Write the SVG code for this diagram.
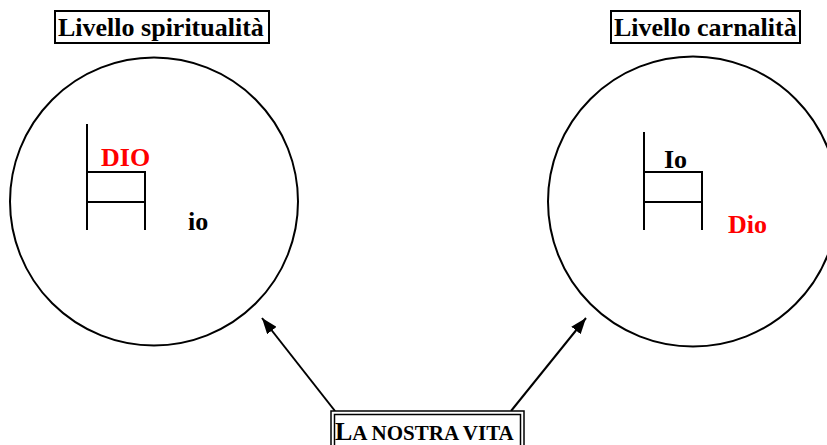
<svg xmlns="http://www.w3.org/2000/svg" width="827" height="445" viewBox="0 0 827 445">
<style>
  text { font-family: "Liberation Serif", "Times New Roman", serif; font-weight: bold; font-size: 26px; fill: #000; }
  .red { fill: #ff0000; }
  .circle { fill: none; stroke: #000; stroke-width: 2; }
  .ladder { fill: none; stroke: #000; stroke-width: 2; }
  .box { fill: #fff; stroke: #000; stroke-width: 2; }
  .conn { stroke: #000; stroke-width: 2; fill: none; }
</style>
<defs>
  <marker id="arrow" viewBox="0 0 16 12" refX="16" refY="6" markerWidth="16" markerHeight="12" markerUnits="userSpaceOnUse" orient="auto">
    <path d="M0,0 L16,6 L0,12 Z" fill="#000"/>
  </marker>
</defs>
<rect width="827" height="445" fill="#fff"/>

<g id="spiritualita">
  <circle class="circle" cx="154" cy="201.5" r="144"/>
  <rect class="box" x="55" y="11" width="214" height="32"/>
  <text x="58" y="36">Livello spiritualità</text>
  <path class="ladder" d="M87,124 V230 M87,172 H145 V230 M87,202 H145"/>
  <text class="red" x="101" y="166">DIO</text>
  <text x="188" y="230">io</text>
</g>

<g id="carnalita">
  <circle class="circle" cx="693" cy="201.5" r="145"/>
  <rect class="box" x="611" y="11" width="189" height="32"/>
  <text x="614" y="36">Livello carnalità</text>
  <path class="ladder" d="M644,132 V230 M644,172 H702 V230 M644,202 H702"/>
  <text x="664" y="168">Io</text>
  <text class="red" x="728" y="233">Dio</text>
</g>

<g id="connectors">
  <line class="conn" x1="335" y1="411" x2="262" y2="318" marker-end="url(#arrow)"/>
  <line class="conn" x1="511" y1="411" x2="586" y2="318" marker-end="url(#arrow)"/>
</g>

<g id="vita">
  <rect x="331" y="411" width="193" height="40" fill="#fff" stroke="#000" stroke-width="1.5"/>
  <rect x="334.5" y="414.5" width="186" height="36" fill="none" stroke="#000" stroke-width="1.5"/>
  <text x="335" y="440"><tspan font-size="26">L</tspan><tspan font-size="21">A NOSTRA VITA</tspan></text>
</g>
</svg>
